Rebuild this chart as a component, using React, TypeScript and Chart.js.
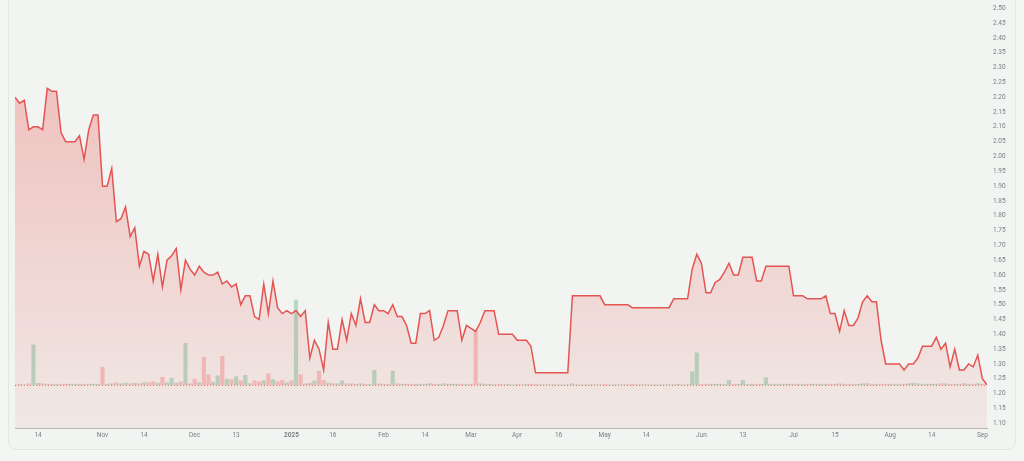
import React, { useEffect, useRef } from 'react';
import { Chart, registerables } from 'chart.js';

Chart.register(...registerables);

// Daily closing prices (trading days, Oct 2024 – Sep 2025)
const prices: number[] = [
  2.20, 2.18, 2.19, 2.09, 2.10, 2.10, 2.09, 2.23, 2.22, 2.22,
  2.08, 2.05, 2.05, 2.05, 2.07, 1.99, 2.09, 2.14, 2.14, 1.90,
  1.90, 1.96, 1.78, 1.79, 1.83, 1.73, 1.76, 1.63, 1.68, 1.67,
  1.58, 1.67, 1.56, 1.65, 1.665, 1.69, 1.55, 1.65, 1.62, 1.60,
  1.63, 1.61, 1.60, 1.60, 1.61, 1.57, 1.58, 1.56, 1.57, 1.50,
  1.53, 1.53, 1.46, 1.45, 1.57, 1.47, 1.58, 1.49, 1.47, 1.48,
  1.47, 1.48, 1.46, 1.48, 1.32, 1.38, 1.35, 1.28, 1.44, 1.35,
  1.35, 1.45, 1.38, 1.47, 1.43, 1.52, 1.44, 1.44, 1.50, 1.48,
  1.48, 1.47, 1.50, 1.46, 1.46, 1.43, 1.37, 1.37, 1.47, 1.47,
  1.48, 1.38, 1.39, 1.43, 1.48, 1.48, 1.48, 1.38, 1.43, 1.42,
  1.41, 1.44, 1.48, 1.48, 1.48, 1.40, 1.40, 1.40, 1.40, 1.38,
  1.38, 1.38, 1.36, 1.27, 1.27, 1.27, 1.27, 1.27, 1.27, 1.27,
  1.27, 1.53, 1.53, 1.53, 1.53, 1.53, 1.53, 1.53, 1.50, 1.50,
  1.50, 1.50, 1.50, 1.50, 1.49, 1.49, 1.49, 1.49, 1.49, 1.49,
  1.49, 1.49, 1.49, 1.52, 1.52, 1.52, 1.52, 1.62, 1.67, 1.64,
  1.54, 1.54, 1.575, 1.585, 1.61, 1.64, 1.60, 1.60, 1.66, 1.66,
  1.66, 1.58, 1.58, 1.63, 1.63, 1.63, 1.63, 1.63, 1.63, 1.53,
  1.53, 1.53, 1.52, 1.52, 1.52, 1.52, 1.53, 1.47, 1.47, 1.41,
  1.48, 1.43, 1.43, 1.455, 1.51, 1.53, 1.51, 1.51, 1.38, 1.30,
  1.30, 1.30, 1.30, 1.28, 1.30, 1.30, 1.32, 1.36, 1.36, 1.36,
  1.39, 1.35, 1.37, 1.29, 1.35, 1.28, 1.28, 1.30, 1.29, 1.33,
  1.25, 1.23,
];

// Daily volume (thousand shares)
const volumes: number[] = [
  0, 5, 0, 10, 400, 15, 10, 5, 5, 5,
  5, 5, 5, 5, 5, 5, 5, 5, 5, 175,
  5, 10, 20, 10, 15, 10, 15, 10, 20, 20,
  30, 15, 75, 20, 65, 15, 30, 415, 10, 55,
  20, 275, 100, 25, 90, 285, 55, 50, 80, 40,
  95, 10, 40, 30, 40, 110, 50, 30, 45, 20,
  40, 850, 100, 10, 15, 40, 135, 45, 15, 10,
  10, 40, 10, 10, 5, 10, 5, 5, 145, 10,
  5, 5, 135, 10, 5, 5, 5, 5, 5, 5,
  10, 5, 5, 10, 5, 5, 5, 5, 5, 5,
  540, 10, 5, 5, 0, 5, 0, 5, 0, 5,
  0, 5, 5, 5, 0, 0, 0, 0, 0, 0,
  0, 10, 0, 0, 0, 0, 0, 0, 5, 0,
  0, 0, 0, 0, 5, 0, 0, 0, 0, 0,
  0, 0, 0, 0, 5, 0, 0, 130, 320, 5,
  5, 5, 5, 5, 5, 45, 5, 5, 45, 5,
  5, 5, 5, 70, 5, 5, 5, 5, 5, 5,
  5, 5, 5, 5, 5, 5, 5, 5, 5, 10,
  5, 5, 5, 5, 10, 10, 5, 5, 5, 5,
  5, 5, 5, 5, 10, 15, 10, 5, 5, 5,
  5, 10, 10, 5, 5, 5, 10, 5, 5, 10,
  5, 5,
];

// X-axis tick labels and the trading-day index they sit on
const tickIndex: number[] = [5, 19, 28, 39, 48, 60, 69, 80, 89, 99, 109, 118, 128, 137, 149, 158, 169, 178, 190, 199, 210];
const tickText: string[] = ['14', 'Nov', '14', 'Dec', '13', '2025', '16', 'Feb', '14', 'Mar', 'Apr', '16', 'May', '14', 'Jun', '13', 'Jul', '15', 'Aug', '14', 'Sep'];

// Price-axis tick values
const priceTicks: number[] = [
  1.10, 1.15, 1.20, 1.25, 1.30, 1.35, 1.40, 1.45, 1.50, 1.55,
  1.60, 1.65, 1.70, 1.75, 1.80, 1.85, 1.90, 1.95, 2.00, 2.05,
  2.10, 2.15, 2.20, 2.25, 2.30, 2.35, 2.40, 2.45, 2.50,
];

const Y_MIN = 1.084;
const Y_MAX = 2.528;
const V_MAX = 3860;

const LINE_COLOR = 'rgb(228, 84, 82)';
const TEXT_COLOR = '#7b7e84';
const FONT_FAMILY = 'Roboto, "Liberation Sans", sans-serif';

export default function App() {
  const canvasRef = useRef<HTMLCanvasElement | null>(null);

  useEffect(() => {
    const canvas = canvasRef.current;
    if (!canvas) return;
    const lastPrice = prices[prices.length - 1];
    const f = (lastPrice - Y_MIN) / (Y_MAX - Y_MIN);
    const vMin = (-f / (1 - f)) * V_MAX;

    const labelMap: Record<number, string> = {};
    tickIndex.forEach((v, i) => (labelMap[v] = tickText[i]));

    const lastLine = {
      id: 'lastLine',
      afterDatasetsDraw(chart: any) {
        const { ctx, chartArea, scales } = chart;
        const y = Math.round(scales.y.getPixelForValue(lastPrice)) + 0.5;
        ctx.save();
        ctx.strokeStyle = 'rgba(228, 84, 82, 0.8)';
        ctx.lineWidth = 1;
        ctx.setLineDash([1, 2]);
        ctx.beginPath();
        ctx.moveTo(chartArea.left, y);
        ctx.lineTo(chartArea.right, y);
        ctx.stroke();
        ctx.restore();
      },
    };

    const chart = new Chart(canvas, {
      type: 'bar',
      data: {
        datasets: [
          {
            type: 'line',
            label: 'Price',
            data: prices.map((p, i) => ({ x: i, y: p })),
            yAxisID: 'y',
            borderColor: LINE_COLOR,
            borderWidth: 1.5,
            pointRadius: 0,
            tension: 0,
            fill: 'start',
            backgroundColor: (ctx: any) => {
              const { chart: ch } = ctx;
              const area = ch.chartArea;
              if (!area) return 'rgba(239,83,80,0.2)';
              const g = ch.ctx.createLinearGradient(0, area.top, 0, area.bottom);
              g.addColorStop(0, 'rgba(236, 80, 78, 0.36)');
              g.addColorStop(1, 'rgba(236, 80, 78, 0.07)');
              return g;
            },
            order: 0,
          } as any,
          {
            type: 'bar',
            label: 'Volume',
            data: volumes.map((v, i) => ({ x: i, y: v })),
            yAxisID: 'yv',
            barThickness: 3.5,
            backgroundColor: volumes.map((_, i) =>
              i === 0 || prices[i] >= prices[i - 1]
                ? 'rgba(70, 160, 110, 0.32)'
                : 'rgba(239, 90, 90, 0.32)'
            ),
            order: 1,
          } as any,
        ],
      },
      options: {
        animation: false,
        responsive: false,
        devicePixelRatio: 1,
        layout: { padding: { left: 15, right: 0, top: 0, bottom: 0 } },
        plugins: {
          legend: { display: false },
          tooltip: { enabled: false },
          filler: { drawTime: 'beforeDatasetsDraw' } as any,
        },
        scales: {
          x: {
            type: 'linear',
            min: 0,
            max: prices.length - 1,
            offset: false,
            grid: { display: false, drawTicks: false },
            border: { display: true, color: '#b3b6b3', width: 1 },
            afterBuildTicks: (s: any) => {
              s.ticks = tickIndex.map((v) => ({ value: v }));
            },
            afterFit: (s: any) => {
              s.height = 33;
              s.paddingLeft = 0;
              s.paddingRight = 0;
            },
            ticks: {
              autoSkip: false,
              maxRotation: 0,
              padding: 3,
              color: TEXT_COLOR,
              font: (c: any) => ({
                size: 6.5,
                family: FONT_FAMILY,
                weight: c.tick && c.tick.label === '2025' ? 'bold' : 'normal',
              }),
              callback: (v: any) => labelMap[v as number] ?? '',
            },
          },
          y: {
            type: 'linear',
            position: 'right',
            min: Y_MIN,
            max: Y_MAX,
            grid: { display: false, drawTicks: false },
            border: { display: false },
            afterBuildTicks: (s: any) => {
              s.ticks = priceTicks.map((v) => ({ value: v }));
            },
            afterFit: (s: any) => {
              s.width = 37;
              s.paddingTop = 0;
              s.paddingBottom = 0;
            },
            ticks: {
              padding: 6,
              color: TEXT_COLOR,
              font: { size: 6.5, family: FONT_FAMILY },
              callback: (v: any) => Number(v).toFixed(2),
            },
          },
          yv: {
            type: 'linear',
            display: false,
            min: vMin,
            max: V_MAX,
          },
        },
      } as any,
      plugins: [lastLine],
    });

    return () => chart.destroy();
  }, []);

  return (
    <div
      style={{
        position: 'fixed',
        left: 0,
        top: 0,
        width: 1024,
        height: 461,
        background: '#f4f6f4',
        overflow: 'hidden',
      }}
    >
      <div
        style={{
          position: 'absolute',
          left: 8,
          top: -8,
          width: 1008,
          height: 458,
          boxSizing: 'border-box',
          border: '1px solid #e2e6e2',
          borderRadius: 8,
          background: '#f1f4f1',
        }}
      />
      <canvas
        ref={canvasRef}
        width={1024}
        height={461}
        style={{ position: 'absolute', left: 0, top: 0, display: 'block' }}
      />
    </div>
  );
}
